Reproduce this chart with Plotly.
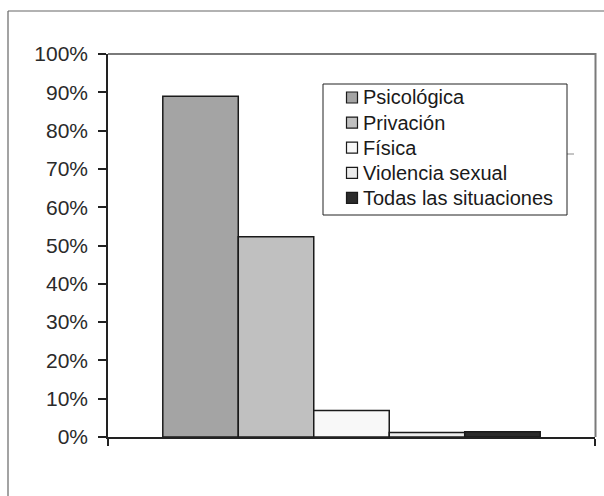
import plotly.graph_objects as go

# Share of cases by type of violence
series_names = ["Psicológica", "Privación", "Física", "Violencia sexual", "Todas las situaciones"]
series_values = [0.89, 0.523, 0.069, 0.012, 0.014]
series_colors = ["#a4a4a4", "#c0c0c0", "#f8f8f8", "#ececec", "#2b2b2b"]
y_tick_values = [0.0, 0.1, 0.2, 0.3, 0.4, 0.5, 0.6, 0.7, 0.8, 0.9, 1.0]
y_tick_labels = ["0%", "10%", "20%", "30%", "40%", "50%", "60%", "70%", "80%", "90%", "100%"]

W, H = 604, 496
L, R, T, B = 108, 9, 54, 59
PW, PH = W - L - R, H - T - B


def px_x(px):
    """Pixel column -> paper x (paper spans the plotting area)."""
    return (px - L) / PW


def px_y(py):
    """Pixel row -> paper y."""
    return (H - B - py) / PH


FONT = "Liberation Sans, Arial, sans-serif"

fig = go.Figure()
for name, val, col in zip(series_names, series_values, series_colors):
    fig.add_trace(go.Bar(
        x=[0], y=[val], name=name, showlegend=False,
        marker=dict(color=col, line=dict(color="#1a1a1a", width=1.5)),
    ))

fig.update_layout(
    width=W, height=H,
    margin=dict(l=L, r=R, t=T, b=B, pad=0),
    paper_bgcolor="white", plot_bgcolor="white",
    barmode="group", bargap=0.225, bargroupgap=0,
    font=dict(family=FONT, size=21, color="#2a2a2a"),
    xaxis=dict(
        range=[-0.5, 0.5], showgrid=False, zeroline=False,
        showline=True, linecolor="#222222", linewidth=1.5,
        tickmode="array", tickvals=[-0.5, 0.5], ticktext=["", ""],
        ticks="outside", ticklen=7, tickwidth=1.5, tickcolor="#222222",
        fixedrange=True,
    ),
    yaxis=dict(
        range=[0, 1], showgrid=False, zeroline=False,
        showline=True, linecolor="#222222", linewidth=1.5,
        tickmode="array", tickvals=y_tick_values, ticktext=y_tick_labels,
        ticks="outside", ticklen=8, tickwidth=1.5, tickcolor="#222222",
        ticklabelstandoff=6,
        fixedrange=True,
    ),
)

# grey border along the top and right of the plotting area
fig.add_shape(type="path", xref="paper", yref="paper",
              path=f"M {px_x(108)},{px_y(54)} L {px_x(595.5)},{px_y(54)} L {px_x(595.5)},{px_y(437)}",
              line=dict(color="#7a7a7a", width=2))

# short grey stub beside the legend
fig.add_shape(type="line", xref="paper", yref="paper",
              x0=px_x(567), x1=px_x(574), y0=px_y(154), y1=px_y(154),
              line=dict(color="#8a8a8a", width=1))

# legend box with a swatch and label per series
fig.add_shape(type="rect", xref="paper", yref="paper",
              x0=px_x(323), x1=px_x(567), y0=px_y(215), y1=px_y(84),
              line=dict(color="#222222", width=1), fillcolor="white")
row0, row_step = 97.5, 25.1
for i, (name, col) in enumerate(zip(series_names, series_colors)):
    cy = row0 + i * row_step
    fig.add_shape(type="rect", xref="paper", yref="paper",
                  x0=px_x(346.5), x1=px_x(357.5), y0=px_y(cy + 5.5), y1=px_y(cy - 5.5),
                  line=dict(color="#1a1a1a", width=1.2), fillcolor=col)
    fig.add_annotation(xref="paper", yref="paper", x=px_x(361), y=px_y(cy),
                       xanchor="left", yanchor="middle", showarrow=False,
                       text=name, font=dict(family=FONT, size=20, color="#1a1a1a"))

# outer chart frame (left and top edges)
fx, fy = px_x(8), px_y(11)
fig.add_shape(type="line", xref="paper", yref="paper", x0=fx, x1=1.1, y0=fy, y1=fy,
              line=dict(color="#666666", width=1.2))
fig.add_shape(type="line", xref="paper", yref="paper", x0=fx, x1=fx, y0=-0.3, y1=fy,
              line=dict(color="#666666", width=1.2))

fig.write_html("out.html")
